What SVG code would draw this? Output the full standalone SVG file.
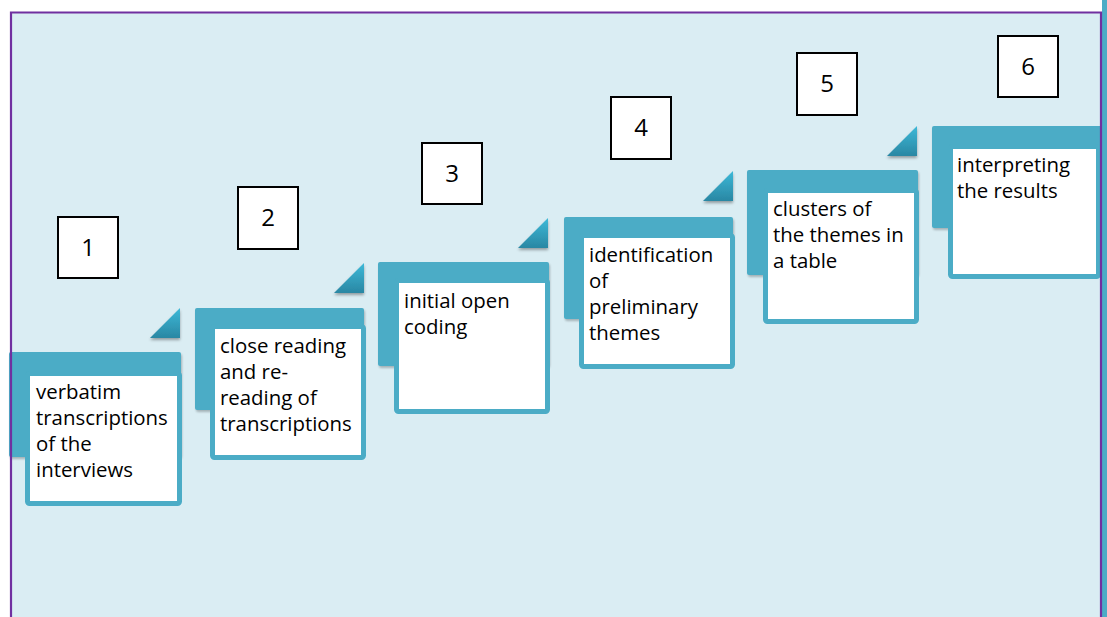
<svg xmlns="http://www.w3.org/2000/svg" width="1107" height="617" viewBox="0 0 1107 617">
  <defs>
    <style>
      .back { fill: #4bacc6; }
      .card { fill: #ffffff; stroke: #4bacc6; stroke-width: 5; }
      .tri { fill: url(#triGrad); filter: url(#shadow); }
      .num { fill: #ffffff; stroke: #000000; stroke-width: 2; }
      .numtxt { font-family: "Open Sans", "Liberation Sans", sans-serif; font-size: 24px; fill: #000000; text-anchor: middle; }
      .lbl { font-family: "Open Sans", "Liberation Sans", sans-serif; font-size: 20.4px; fill: #000000; }
    </style>
    <linearGradient id="triGrad" x1="0" y1="0" x2="0" y2="1">
      <stop offset="0" stop-color="#3cb9d8"/>
      <stop offset="1" stop-color="#2a87a3"/>
    </linearGradient>
    <filter id="shadow" x="-30%" y="-30%" width="160%" height="170%">
      <feGaussianBlur in="SourceAlpha" stdDeviation="1.5"/>
      <feOffset dx="0" dy="2" result="b"/>
      <feComponentTransfer><feFuncA type="linear" slope="0.35"/></feComponentTransfer>
      <feMerge><feMergeNode/><feMergeNode in="SourceGraphic"/></feMerge>
    </filter>
    <filter id="soft" x="-10%" y="-10%" width="120%" height="125%">
      <feGaussianBlur in="SourceAlpha" stdDeviation="1.2"/>
      <feOffset dx="1" dy="2" result="b"/>
      <feComponentTransfer><feFuncA type="linear" slope="0.25"/></feComponentTransfer>
      <feMerge><feMergeNode/><feMergeNode in="SourceGraphic"/></feMerge>
    </filter>
  </defs>

  <!-- page background and panel -->
  <rect x="0" y="0" width="1107" height="617" fill="#ffffff"/>
  <rect x="11" y="12" width="1091" height="610" fill="#daedf3"/>

  <!-- connectors: none; steps are laid out as a staircase -->
  <g id="connectors"></g>

  <g id="step1">
    <path class="tri" d="M150 338 L180 338 L180 308 Z"/>
    <rect class="back" x="9" y="352" width="172" height="105" rx="2" filter="url(#soft)"/>
    <rect class="card" x="27.5" y="373.5" width="152" height="130" rx="2"/>
    <text class="lbl"><tspan x="36" y="399">verbatim</tspan><tspan x="36" y="425">transcriptions</tspan><tspan x="36" y="451">of the</tspan><tspan x="36" y="477">interviews</tspan></text>
    <rect class="num" x="58" y="217" width="60" height="61"/>
    <text class="numtxt" x="88" y="256">1</text>
  </g>

  <g id="step2">
    <path class="tri" d="M334 293 L364 293 L364 263 Z"/>
    <rect class="back" x="195" y="308" width="169" height="102" rx="2" filter="url(#soft)"/>
    <rect class="card" x="212.5" y="326.5" width="151" height="131" rx="2"/>
    <text class="lbl"><tspan x="220" y="353">close reading</tspan><tspan x="220" y="379">and re-</tspan><tspan x="220" y="405">reading of</tspan><tspan x="220" y="431">transcriptions</tspan></text>
    <rect class="num" x="238" y="187" width="60" height="62"/>
    <text class="numtxt" x="268" y="226">2</text>
  </g>

  <g id="step3">
    <path class="tri" d="M518 248 L548 248 L548 218 Z"/>
    <rect class="back" x="378" y="262" width="171" height="104" rx="2" filter="url(#soft)"/>
    <rect class="card" x="396.5" y="280.5" width="151" height="131" rx="2"/>
    <text class="lbl"><tspan x="404" y="308">initial open</tspan><tspan x="404" y="334">coding</tspan></text>
    <rect class="num" x="422" y="143" width="60" height="61"/>
    <text class="numtxt" x="452" y="182">3</text>
  </g>

  <g id="step4">
    <path class="tri" d="M703 201 L733 201 L733 171 Z"/>
    <rect class="back" x="564" y="217" width="169" height="102" rx="2" filter="url(#soft)"/>
    <rect class="card" x="581.5" y="235.5" width="151" height="131" rx="2"/>
    <text class="lbl"><tspan x="589" y="262">identification</tspan><tspan x="589" y="288">of</tspan><tspan x="589" y="314">preliminary</tspan><tspan x="589" y="340">themes</tspan></text>
    <rect class="num" x="611" y="97" width="60" height="62"/>
    <text class="numtxt" x="641" y="136">4</text>
  </g>

  <g id="step5">
    <path class="tri" d="M887 156 L917 156 L917 126 Z"/>
    <rect class="back" x="747" y="170" width="171" height="105" rx="2" filter="url(#soft)"/>
    <rect class="card" x="765.5" y="190.5" width="151" height="131" rx="2"/>
    <text class="lbl"><tspan x="773" y="216">clusters of</tspan><tspan x="773" y="242">the themes in</tspan><tspan x="773" y="268">a table</tspan></text>
    <rect class="num" x="797" y="53" width="60" height="62"/>
    <text class="numtxt" x="827" y="92">5</text>
  </g>

  <g id="step6">
    <rect class="back" x="932" y="126" width="175" height="102" rx="2" filter="url(#soft)"/>
    <rect class="card" x="950.5" y="146.5" width="148" height="130" rx="2"/>
    <text class="lbl"><tspan x="957" y="172">interpreting</tspan><tspan x="957" y="198">the results</tspan></text>
    <rect class="num" x="998" y="36" width="60" height="61"/>
    <text class="numtxt" x="1028" y="75">6</text>
  </g>

  <!-- panel frame and right edge strip -->
  <rect x="1102" y="0" width="5" height="617" fill="#4bacc6"/>
  <path d="M11 630 L11 12.5 L1101 12.5 L1101 630" fill="none" stroke="#7030a0" stroke-width="2.2"/>
</svg>
